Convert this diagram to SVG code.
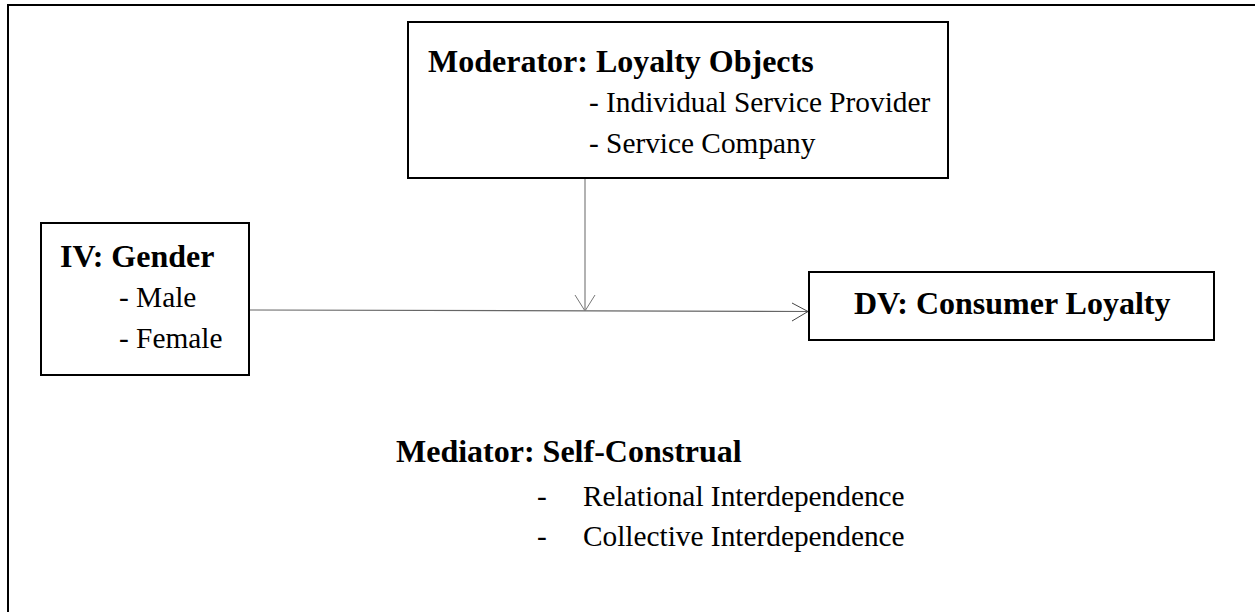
<svg xmlns="http://www.w3.org/2000/svg" width="1255" height="612" viewBox="0 0 1255 612">
<style>
.box{fill:#fff;stroke:#000;stroke-width:2}
.t{font-family:"Liberation Serif","Times New Roman",serif;fill:#000}
.b{font-weight:bold;font-size:32px}
.n{font-size:29.33px}
.frame{stroke:#000;stroke-width:2;fill:none}
</style>
<rect width="1255" height="612" fill="#fff"/>
<path class="frame" d="M8,612 V5 H1255"/>
<g id="connectors" fill="none">
<line x1="249" y1="310" x2="808" y2="311.5" stroke="#666" stroke-width="1.2"/>
<polyline points="792,303 808,311.5 792,321" stroke="#444" stroke-width="1"/>
<line x1="585" y1="179" x2="585" y2="311" stroke="#999" stroke-width="1.5"/>
<polyline points="575,295 585,311 595,295" stroke="#777" stroke-width="1"/>
</g>
<g id="moderator">
<rect class="box" x="408" y="22" width="540" height="156"/>
<text class="t b" x="428" y="72">Moderator: Loyalty Objects</text>
<text class="t n" x="589" y="112">- Individual Service Provider</text>
<text class="t n" x="589" y="153">- Service Company</text>
</g>
<g id="iv">
<rect class="box" x="41" y="223" width="208" height="152"/>
<text class="t b" x="60" y="267">IV: Gender</text>
<text class="t n" x="119" y="307">- Male</text>
<text class="t n" x="119" y="348">- Female</text>
</g>
<g id="dv">
<rect class="box" x="809" y="272" width="405" height="68"/>
<text class="t b" x="854" y="314">DV: Consumer Loyalty</text>
</g>
<g id="mediator">
<text class="t b" x="396" y="462">Mediator: Self-Construal</text>
<text class="t n" x="537" y="506">-</text>
<text class="t n" x="583" y="506">Relational Interdependence</text>
<text class="t n" x="537" y="546">-</text>
<text class="t n" x="583" y="546">Collective Interdependence</text>
</g>
</svg>
